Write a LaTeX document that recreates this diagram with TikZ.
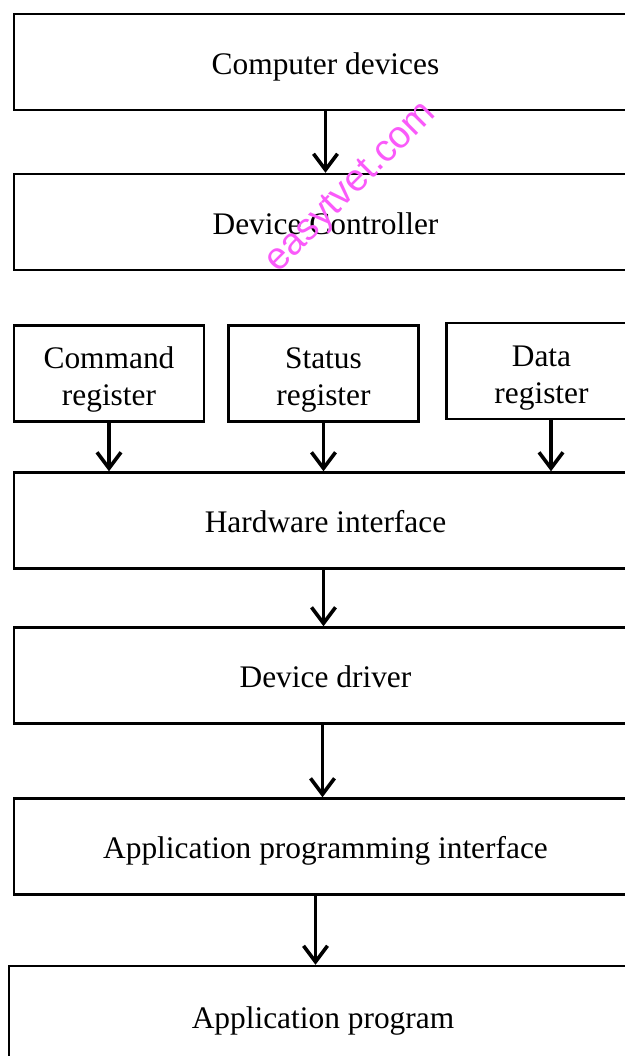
\documentclass[tikz,border=0pt]{standalone}
\usepackage{fontspec}
\setmainfont{Liberation Serif}
\newfontfamily\wmfont{Liberation Sans}
\usetikzlibrary{arrows.meta}
\definecolor{wmpink}{RGB}{250,90,250}
\tikzset{
    layer/.style={draw,line width=1.2pt,inner sep=0pt,minimum height=48pt,align=center,
        font=\fontsize{15.7}{18.5}\selectfont},
    wide/.style={layer,minimum width=311.5pt,text height=15.6pt,text depth=3.4pt},
    reg/.style={layer,minimum width=95pt,text height=35.6pt}
}
\begin{document}
\begin{tikzpicture}[x=0.5pt,y=-0.5pt]
            \useasboundingbox (0,0) rectangle (625,1056);
            \clip (0,0) rectangle (625,1056);
            \fill[white] (0,0) rectangle (625,1056);
            \begin{scope}[every node/.style={wide}]
                \node (cd) at (325.5,62) {Computer devices};
                \node (dc) at (325.5,222) {Device Controller};
                \node (hw) at (325.5,520.5) {Hardware interface};
                \node (drv) at (325.5,675.5) {Device driver};
                \node (api) at (325.5,846.5) {Application programming interface};
                \node[minimum width=314pt,minimum height=50pt] (app) at (323,1016) {Application program};
            \end{scope}
            \begin{scope}[every node/.style={reg}]
                \node (cmd) at (109,373.5) {Command\\register};
                \node (sts) at (323.5,373.5) {Status\\register};
                \node (dat) at (541.5,371) {Data\\register};
            \end{scope}
            \begin{scope}[every edge/.style={draw,line width=1.8pt,-{Straight Barb[length=8pt,width=12pt,line width=1.8pt]}}]
                \path
                    (cd) edge (dc)
                    (cmd.south) edge (cmd.south |- hw.north)
                    (sts.south) edge (sts.south |- hw.north)
                    ([xshift=4.75pt]dat.south) edge ([xshift=4.75pt]dat.south |- hw.north)
                    ([xshift=-1pt]hw.south) edge ([xshift=-1pt]hw.south |- drv.north)
                    ([xshift=-1.5pt]drv.south) edge ([xshift=-1.5pt]drv.south |- api.north)
                    ([xshift=-5pt]api.south) edge ([xshift=-5pt]api.south |- app.north);
            \end{scope}
            \node[rotate=45,text=wmpink,font=\wmfont\fontsize{19}{19}\selectfont] (wm) at (352,188) {easytvet.com};
        \end{tikzpicture}
\end{document}
